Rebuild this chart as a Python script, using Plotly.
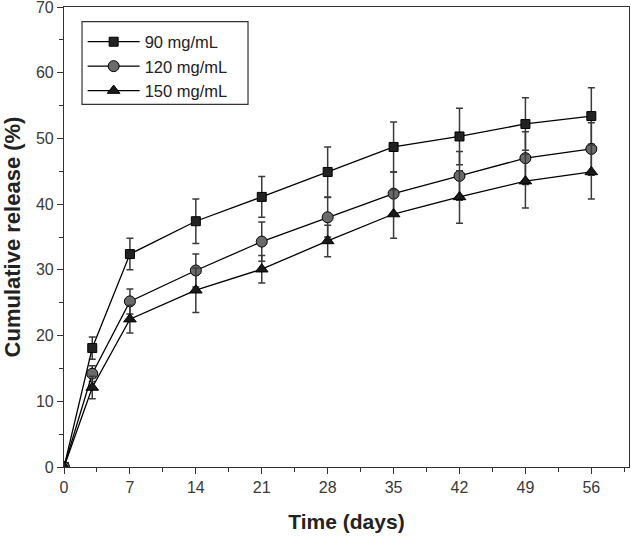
import plotly.graph_objects as go

days = [0, 3, 7, 14, 21, 28, 35, 42, 49, 56]
rel_90 = [0, 18.1, 32.4, 37.4, 41.1, 44.9, 48.7, 50.3, 52.2, 53.4]
err_90 = [0, 1.7, 2.4, 3.4, 3.1, 3.8, 3.8, 4.3, 4.0, 4.3]
rel_120 = [0, 14.2, 25.2, 29.9, 34.3, 38.0, 41.6, 44.3, 47.0, 48.4]
err_120 = [0, 1.2, 1.9, 2.5, 3.0, 3.0, 3.3, 3.7, 4.0, 4.0]
rel_150 = [0, 12.1, 22.5, 26.9, 30.1, 34.4, 38.5, 41.1, 43.5, 44.9]
err_150 = [0, 1.7, 2.1, 3.4, 2.1, 2.4, 3.7, 4.0, 4.1, 4.1]
series_names = ["90 mg/mL", "120 mg/mL", "150 mg/mL"]
x_ticks = [0, 7, 14, 21, 28, 35, 42, 49, 56]
y_ticks = [0, 10, 20, 30, 40, 50, 60, 70]

FONT = "Liberation Sans, Arial, sans-serif"

fig = go.Figure()
specs = [
    (series_names[0], rel_90, err_90, "square", "#222222", 9),
    (series_names[1], rel_120, err_120, "circle", "#6a6a6a", 11),
    (series_names[2], rel_150, err_150, "triangle-up", "#1a1a1a", 11),
]
for name, y, e, sym, fc, sz in specs:
    fig.add_trace(go.Scatter(
        x=days, y=y, name=name, mode="lines+markers",
        line=dict(color="black", width=1.3),
        marker=dict(symbol=sym, size=sz, color=fc, line=dict(color="black", width=1)),
        error_y=dict(type="data", array=e, visible=True, color="#3a3a3a", thickness=1.5, width=3.5),
    ))

# legend frame (drawn as a shape so its width matches the reference)
fig.add_shape(type="rect", xref="paper", yref="paper",
              x0=0.0319, x1=0.3257, y0=0.7885, y1=0.968,
              line=dict(color="#333333", width=1.2), fillcolor="rgba(0,0,0,0)", layer="above")

fig.update_layout(
    template="none",
    width=631, height=536,
    margin=dict(l=64, r=2, t=7, b=69, autoexpand=False),
    paper_bgcolor="white", plot_bgcolor="white",
    font=dict(family=FONT, size=16, color="#333333"),
    showlegend=True,
    legend=dict(
        x=0.033, y=0.962, xanchor="left", yanchor="top",
        borderwidth=0, bgcolor="rgba(255,255,255,0)",
        font=dict(size=16.5, color="#222222"),
        tracegroupgap=0, itemwidth=52,
    ),
    xaxis=dict(
        range=[0, 60], tickmode="array", tickvals=x_ticks, automargin=False,
        ticks="outside", ticklen=6, tickwidth=1.2, tickcolor="#333333",
        showline=True, linecolor="#333333", linewidth=1.2, mirror=True,
        showgrid=False, zeroline=False, ticklabeloverflow="allow",
        minor=dict(dtick=3.5, tick0=0, ticks="outside", ticklen=4, tickcolor="#333333", showgrid=False),
        title=dict(text="<b>Time (days)</b>", font=dict(size=21, color="#222222"), standoff=19),
        tickfont=dict(size=16, color="#3a3a3a"),
    ),
    yaxis=dict(
        range=[0, 70], tickmode="array", tickvals=y_ticks, automargin=False,
        ticks="outside", ticklen=6, tickwidth=1.2, tickcolor="#333333",
        showline=True, linecolor="#333333", linewidth=1.2, mirror=True,
        showgrid=False, zeroline=False, ticklabeloverflow="allow",
        minor=dict(dtick=5, ticks="outside", ticklen=4, tickcolor="#333333", showgrid=False),
        title=dict(text="<b>Cumulative release (%)</b>", font=dict(size=22, color="#222222"), standoff=10),
        tickfont=dict(size=16, color="#3a3a3a"),
    ),
)

fig.write_html(
    "out.html",
    config={"displayModeBar": False},
    post_script="document.body.style.margin='0';document.body.style.padding='0';",
)
